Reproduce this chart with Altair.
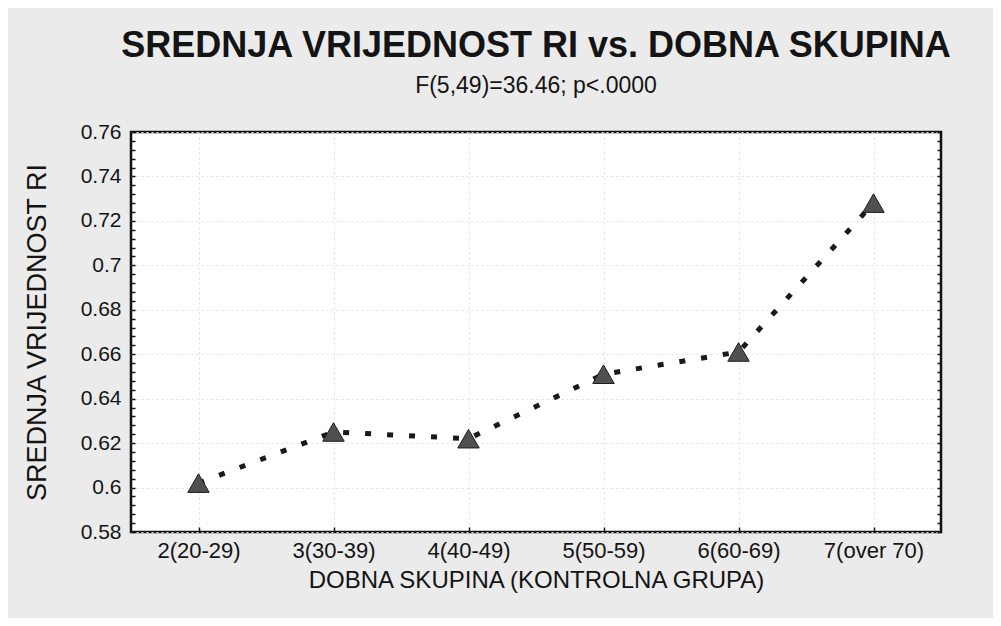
import altair as alt
import pandas as pd

# ---- data ----
groups = ["2(20-29)", "3(30-39)", "4(40-49)", "5(50-59)", "6(60-69)", "7(over 70)"]
ri_means = [0.602, 0.625, 0.622, 0.651, 0.661, 0.728]

y_min, y_max = 0.58, 0.76
y_tick_step = 0.004          # minor tick spacing; labels every 0.02

title_text = "SREDNJA VRIJEDNOST RI vs. DOBNA SKUPINA"
subtitle_text = "F(5,49)=36.46; p<.0000"
x_title = "DOBNA SKUPINA (KONTROLNA GRUPA)"
y_title = "SREDNJA VRIJEDNOST RI"

df = pd.DataFrame({"group": groups, "ri": ri_means})
n_ticks = int(round((y_max - y_min) / y_tick_step)) + 1
y_ticks = [round(y_min + i * y_tick_step, 3) for i in range(n_ticks)]

is_major = "abs(datum.value * 50 - round(datum.value * 50)) < 0.01"
FONT = "Liberation Sans"
INK = "#141414"

x_enc = alt.X(
    "group:N",
    sort=groups,
    scale=alt.Scale(type="point", padding=0.5),
    axis=alt.Axis(
        title=x_title,
        labelAngle=0,
        domain=False,
        tickSize=5,
        tickWidth=1.5,
        tickColor=INK,
        offset=-5,
        labelPadding=8,
        labelFontSize=22,
        titleFontSize=24,
        titleY=53,
        titleBaseline="middle",
        grid=True,
        gridColor="#dedede",
        gridDash=[2, 3],
    ),
)

y_scale = alt.Scale(domain=[y_min, y_max], nice=False, zero=False)

line = alt.Chart(df).mark_line(
    strokeDash=[6, 16], strokeWidth=5, color="#1a1a1a", strokeCap="butt"
).encode(
    x=x_enc,
    y=alt.Y(
        "ri:Q",
        scale=y_scale,
        axis=alt.Axis(
            orient="left",
            title=y_title,
            values=y_ticks,
            labelExpr=f"{is_major} ? format(datum.value, '.2~f') : ''",
            labelOverlap=False,
            domain=False,
            tickSize=4,
            tickWidth=1.5,
            tickColor=INK,
            offset=-4,
            labelPadding=10,
            labelFontSize=21,
            titleFontSize=27,
            titleX=-98,
            titleBaseline="middle",
            grid=True,
            gridColor="#e0e0e0",
            gridDash=[2, 3],
            gridOpacity={"condition": {"test": is_major, "value": 1}, "value": 0},
        ),
    ),
)

points = alt.Chart(df).mark_point(
    shape="triangle-up", filled=True, size=460, color="#505050",
    stroke="#1e1e1e", strokeWidth=1, opacity=1
).encode(
    x=x_enc,
    y=alt.Y(
        "ri:Q",
        scale=y_scale,
        axis=alt.Axis(
            orient="right",
            title=None,
            labels=False,
            values=y_ticks,
            domain=False,
            tickSize=4,
            tickWidth=1.5,
            tickColor=INK,
            offset=-4,
            grid=False,
        ),
    ),
)

chart = alt.layer(line, points).resolve_axis(y="independent").properties(
    width=810,
    height=400,
    autosize=alt.AutoSizeParams(type="none"),
    padding={"left": 123, "top": 124, "right": 52, "bottom": 86},
    background="#ebebeb",
    title=alt.TitleParams(
        text=title_text,
        subtitle=subtitle_text,
        anchor="middle",
        font=FONT,
        fontSize=36,
        fontWeight="bold",
        color=INK,
        subtitleFont=FONT,
        subtitleFontSize=23,
        subtitleColor=INK,
        subtitlePadding=10,
        offset=22,
    ),
).configure_view(
    fill="white", stroke="#111111", strokeWidth=2.5
).configure_axis(
    labelFont=FONT,
    titleFont=FONT,
    labelColor=INK,
    titleColor=INK,
    titleFontWeight="normal",
)

chart.save("out.html", embed_options={"renderer": "svg", "actions": False})
